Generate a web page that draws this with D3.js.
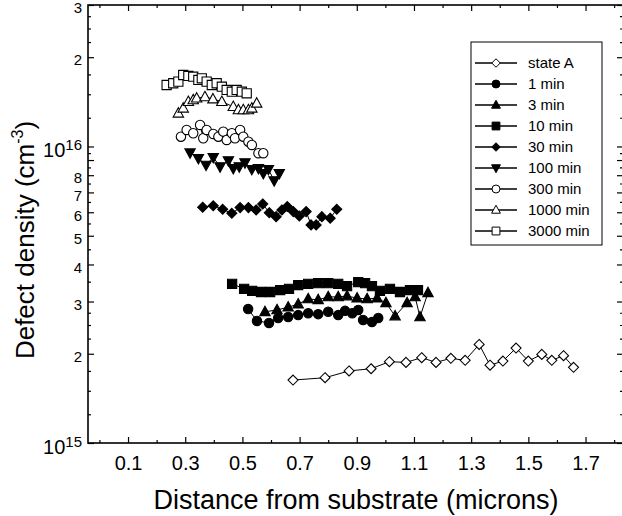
<!DOCTYPE html>
<html><head><meta charset="utf-8">
<script src="https://cdn.jsdelivr.net/npm/d3@7"></script>
<style>body{margin:0;background:#fff} svg{display:block}</style>
</head><body>
<svg id="chart" width="622" height="516"></svg>
<script>
// ---------------- DATA ----------------
const seriesNames = ["state A","1 min","3 min","10 min","30 min","100 min","300 min","1000 min","3000 min"];

const xTickValues = [0.1,0.3,0.5,0.7,0.9,1.1,1.3,1.5,1.7];
const xTickLabels = ["0.1","0.3","0.5","0.7","0.9","1.1","1.3","1.5","1.7"];
const xMinorTicks = [0.0,0.2,0.4,0.6,0.8,1.0,1.2,1.4,1.6,1.8];

const yLabelValues = [3e16,2e16,8e15,7e15,6e15,5e15,4e15,3e15,2e15];
const yLabelTexts  = ["3","2","8","7","6","5","4","3","2"];
const yPowerValues = [1e16,1e15];
const yPowerExps   = ["16","15"];
const yMajorTicks = [1e15,2e15,3e15,4e15,5e15,6e15,7e15,8e15,9e15,1e16,2e16,3e16];
const yMinorTicks = [1.25e15,1.5e15,1.75e15,2.25e15,2.5e15,2.75e15,3.5e15,4.5e15,5.5e15,6.5e15,7.5e15,8.5e15,9.5e15,
                     1.25e16,1.5e16,1.75e16,2.25e16,2.5e16,2.75e16];

const stateA_x = [0.677,0.789,0.873,0.95,1.014,1.072,1.127,1.177,1.229,1.279,1.328,1.366,1.411,1.457,1.5,1.547,1.582,1.623,1.658];
const stateA_y = [1.63e15,1.66e15,1.75e15,1.78e15,1.88e15,1.87e15,1.94e15,1.87e15,1.93e15,1.90e15,2.15e15,1.83e15,1.89e15,2.09e15,1.89e15,1.99e15,1.90e15,1.97e15,1.80e15];

const min1_x = [0.520,0.551,0.593,0.625,0.660,0.695,0.730,0.765,0.800,0.835,0.859,0.884,0.905,0.922,0.953,0.975];
const min1_y = [2.83e15,2.58e15,2.54e15,2.64e15,2.66e15,2.70e15,2.74e15,2.72e15,2.77e15,2.70e15,2.79e15,2.74e15,2.81e15,2.60e15,2.56e15,2.64e15];

const min3_x = [0.579,0.621,0.660,0.695,0.730,0.765,0.800,0.835,0.866,0.901,0.936,0.971,1.002,1.034,1.076,1.104,1.121,1.149];
const min3_y = [2.77e15,2.81e15,2.87e15,2.94e15,3.06e15,3.04e15,3.11e15,3.11e15,3.13e15,3.08e15,3.06e15,3.08e15,2.97e15,2.68e15,2.97e15,3.11e15,2.66e15,3.21e15];

const min10_x = [0.464,0.506,0.534,0.565,0.597,0.632,0.663,0.695,0.730,0.765,0.800,0.835,0.866,0.905,0.929,0.953,0.981,1.016,1.051,1.086,1.114];
const min10_y = [3.44e15,3.31e15,3.26e15,3.23e15,3.23e15,3.28e15,3.31e15,3.41e15,3.44e15,3.46e15,3.46e15,3.44e15,3.38e15,3.49e15,3.46e15,3.38e15,3.26e15,3.31e15,3.23e15,3.28e15,3.28e15];

const min30_x = [0.361,0.398,0.431,0.463,0.492,0.521,0.548,0.571,0.594,0.618,0.638,0.657,0.678,0.699,0.723,0.740,0.758,0.778,0.807,0.830];
const min30_y = [6.24e15,6.31e15,6.14e15,5.95e15,6.22e15,6.22e15,6.11e15,6.40e15,5.98e15,5.80e15,6.11e15,6.27e15,6.03e15,5.83e15,6.03e15,5.44e15,5.44e15,5.80e15,5.73e15,6.14e15];

const min100_x = [0.317,0.346,0.373,0.398,0.422,0.451,0.468,0.489,0.509,0.533,0.556,0.573,0.591,0.611,0.629];
const min100_y = [9.53e15,9.12e15,8.66e15,9.19e15,8.55e15,8.96e15,8.44e15,8.55e15,8.82e15,8.38e15,8.44e15,8.12e15,8.38e15,7.67e15,8.12e15];

const min300_x = [0.285,0.305,0.328,0.352,0.363,0.375,0.398,0.416,0.433,0.445,0.463,0.474,0.492,0.503,0.521,0.533,0.556,0.573];
const min300_y = [1.079e16,1.137e16,1.108e16,1.182e16,1.066e16,1.137e16,1.102e16,1.079e16,1.122e16,1.052e16,1.108e16,1.066e16,1.137e16,1.079e16,1.038e16,1.012e16,0.949e16,0.949e16];

const min1000_x = [0.276,0.293,0.311,0.328,0.340,0.369,0.397,0.428,0.468,0.486,0.503,0.521,0.533,0.550];
const min1000_y = [1.294e16,1.345e16,1.416e16,1.435e16,1.454e16,1.469e16,1.445e16,1.416e16,1.362e16,1.328e16,1.328e16,1.328e16,1.345e16,1.398e16];

const min3000_x = [0.235,0.258,0.276,0.293,0.311,0.328,0.346,0.358,0.375,0.393,0.410,0.428,0.445,0.463,0.480,0.498,0.515];
const min3000_y = [1.612e16,1.634e16,1.655e16,1.742e16,1.729e16,1.719e16,1.676e16,1.698e16,1.655e16,1.612e16,1.634e16,1.591e16,1.551e16,1.530e16,1.551e16,1.530e16,1.511e16];

const seriesX = [stateA_x,min1_x,min3_x,min10_x,min30_x,min100_x,min300_x,min1000_x,min3000_x];
const seriesY = [stateA_y,min1_y,min3_y,min10_y,min30_y,min100_y,min300_y,min1000_y,min3000_y];
const seriesShape = ["diamond","circle","triUp","square","diamond","triDown","circle","triUp","square"];
const seriesFill  = ["#fff","#000","#000","#000","#000","#000","#fff","#fff","#fff"];

// ---------------- LAYOUT ----------------
const FONT = "'Liberation Sans', Arial, Helvetica, sans-serif";
const X0 = 88, X1 = 623, Y0 = 5, Y1 = 443;
const svg = d3.select("#chart").style("font-family", FONT);

const x = d3.scaleLinear().domain([-0.04, 1.831]).range([X0, X1]);
const y = d3.scaleLog().domain([1e15, 3e16]).range([Y1, Y0]);

function shapePath(shape, s) {
  switch (shape) {
    case "diamond": { const r = 5*s; return `M0,${-r}L${r},0L0,${r}L${-r},0Z`; }
    case "square":  { const r = 4.6*s; return `M${-r},${-r}H${r}V${r}H${-r}Z`; }
    case "triUp":   { const w = 5.2*s, t = 5.6*s, b = 3.8*s; return `M0,${-t}L${w},${b}L${-w},${b}Z`; }
    case "triDown": { const w = 5.2*s, t = 5.6*s, b = 3.8*s; return `M0,${t}L${w},${-b}L${-w},${-b}Z`; }
    case "circle":  { const r = 4.7*s; return `M${r},0A${r},${r} 0 1,1 ${-r},0A${r},${r} 0 1,1 ${r},0Z`; }
  }
}

// ---------------- AXES ----------------
function styleAxis(g) {
  g.select(".domain").remove();
  g.selectAll("line").attr("stroke", "#000").attr("stroke-width", 1.2);
}
// bottom
svg.append("g").attr("transform", `translate(0,${Y1})`)
  .call(d3.axisBottom(x).tickValues(xTickValues).tickSize(-6).tickPadding(13)
        .tickFormat((d,i) => xTickLabels[i]))
  .call(styleAxis)
  .call(g => g.selectAll("text").attr("font-size", 20).attr("font-family", FONT).attr("fill", "#000"));
svg.append("g").attr("transform", `translate(0,${Y1})`)
  .call(d3.axisBottom(x).tickValues(xMinorTicks).tickSize(-3).tickFormat(""))
  .call(styleAxis);
// top
svg.append("g").attr("transform", `translate(0,${Y0})`)
  .call(d3.axisTop(x).tickValues(xTickValues).tickSize(-6).tickFormat(""))
  .call(styleAxis);
svg.append("g").attr("transform", `translate(0,${Y0})`)
  .call(d3.axisTop(x).tickValues(xMinorTicks).tickSize(-3).tickFormat(""))
  .call(styleAxis);
// left
svg.append("g").attr("transform", `translate(${X0},0)`)
  .call(d3.axisLeft(y).tickValues(yMajorTicks).tickSize(-6).tickFormat(""))
  .call(styleAxis);
svg.append("g").attr("transform", `translate(${X0},0)`)
  .call(d3.axisLeft(y).tickValues(yMinorTicks).tickSize(-3).tickFormat(""))
  .call(styleAxis);
// right
svg.append("g").attr("transform", `translate(${X1},0)`)
  .call(d3.axisRight(y).tickValues(yMajorTicks).tickSize(-6).tickFormat(""))
  .call(styleAxis);
svg.append("g").attr("transform", `translate(${X1},0)`)
  .call(d3.axisRight(y).tickValues(yMinorTicks).tickSize(-3).tickFormat(""))
  .call(styleAxis);

// y labels
svg.append("g").selectAll("text").data(yLabelValues).join("text")
  .attr("x", X0 - 6).attr("y", d => y(d) + 3).attr("dy", "0.35em")
  .attr("text-anchor", "end").attr("font-size", 15).attr("fill", "#000")
  .text((d,i) => yLabelTexts[i]);
const pw = svg.append("g").selectAll("text").data(yPowerValues).join("text")
  .attr("x", X0 - 6).attr("y", d => y(d) + 4).attr("dy", "0.35em")
  .attr("text-anchor", "end").attr("font-size", 20).attr("fill", "#000");
pw.append("tspan").text("10");
pw.append("tspan").attr("font-size", 15).attr("dy", -7).text((d,i) => yPowerExps[i]);

// frame
svg.append("rect").attr("x", X0).attr("y", Y0).attr("width", X1 - X0).attr("height", Y1 - Y0)
  .attr("fill", "none").attr("stroke", "#000").attr("stroke-width", 1.6);

// titles
svg.append("text").attr("x", 356).attr("y", 509).attr("text-anchor", "middle")
  .attr("font-size", 27).attr("fill", "#000").text("Distance from substrate (microns)");
const yt = svg.append("text").attr("transform", `translate(34,240) rotate(-90)`)
  .attr("text-anchor", "middle").attr("font-size", 26).attr("fill", "#000");
yt.append("tspan").text("Defect density (cm");
yt.append("tspan").attr("font-size", 16).attr("dy", -11).text("-3");
yt.append("tspan").attr("dy", 11).text(")");

// ---------------- SERIES ----------------
const line = d3.line().x(d => x(d[0])).y(d => y(d[1]));
seriesNames.forEach((name, k) => {
  const pts = seriesX[k].map((v, i) => [v, seriesY[k][i]]);
  const g = svg.append("g");
  g.append("path").datum(pts).attr("d", line).attr("fill", "none")
    .attr("stroke", "#000").attr("stroke-width", 1);
  g.selectAll("path.m").data(pts).join("path").attr("class", "m")
    .attr("transform", d => `translate(${x(d[0])},${y(d[1])})`)
    .attr("d", shapePath(seriesShape[k], 1))
    .attr("fill", seriesFill[k]).attr("stroke", "#000").attr("stroke-width", 1.1);
});

// ---------------- LEGEND ----------------
const LX = 471, LY = 42, LW = 131, LH = 203;
const lg = svg.append("g");
lg.append("rect").attr("x", LX).attr("y", LY).attr("width", LW).attr("height", LH)
  .attr("fill", "#fff").attr("stroke", "#000").attr("stroke-width", 1);
const rowY = d3.scalePoint().domain(seriesNames).range([63, 231]);
seriesNames.forEach((name, k) => {
  const cy = rowY(name);
  lg.append("line").attr("x1", 475).attr("x2", 517).attr("y1", cy).attr("y2", cy)
    .attr("stroke", "#000").attr("stroke-width", 1.3);
  lg.append("path").attr("transform", `translate(496,${cy})`)
    .attr("d", shapePath(seriesShape[k], 0.85))
    .attr("fill", seriesFill[k]).attr("stroke", "#000").attr("stroke-width", 1);
  lg.append("text").attr("x", 528).attr("y", cy).attr("dy", "0.36em")
    .attr("font-size", 15).attr("fill", "#000").text(name);
});
</script>
</body></html>
